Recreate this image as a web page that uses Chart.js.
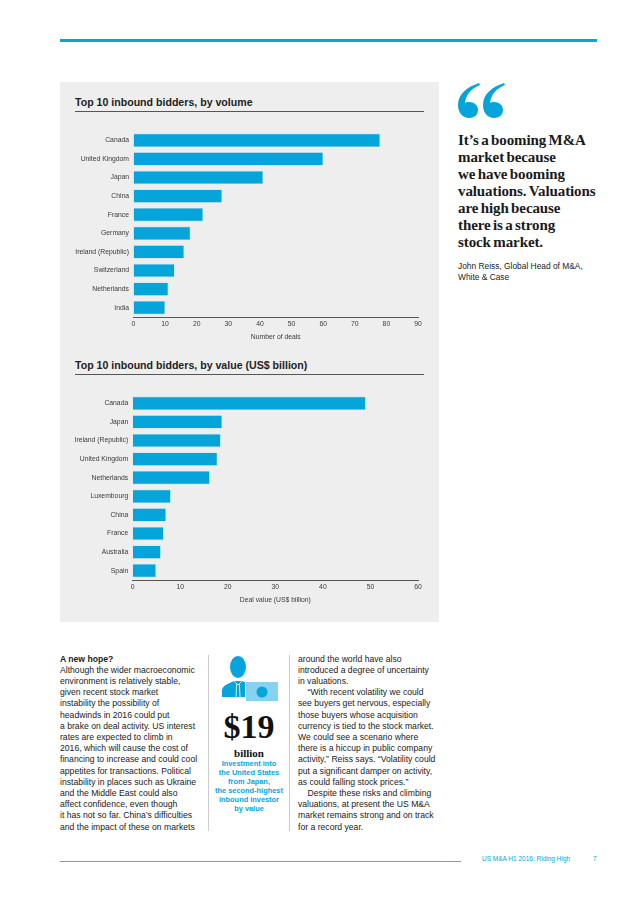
<!DOCTYPE html>
<html>
<head>
<meta charset="utf-8">
<script src="https://cdn.jsdelivr.net/npm/chart.js@4"></script>
<style>
  html, body { margin: 0; padding: 0; background: #fff; }
  #page { position: relative; width: 636px; height: 900px; overflow: hidden; font-family: "Liberation Sans", sans-serif; color: #222; }
  .abs { position: absolute; }
  .rule { position: absolute; background: #555; height: 1px; }
  .head { position: absolute; left: 75px; font-weight: bold; font-size: 10.6px; color: #222; white-space: nowrap; }
  .body { position: absolute; font-size: 8.65px; line-height: 11.2px; white-space: nowrap; color: #222; }
  canvas { position: absolute; }
</style>
</head>
<body>
<div id="page">
  <div class="abs" style="left:60px;top:39px;width:537px;height:3px;background:#05a5dc"></div>
  <div class="abs" style="left:60px;top:82px;width:379px;height:540px;background:#eeeeee"></div>

  <div class="head" style="top:96px">Top 10 inbound bidders, by volume</div>
  <div class="rule" style="left:75px;top:111px;width:349px"></div>
  <canvas id="volumeChart" style="left:60px;top:120px;width:379px;height:225px"></canvas>

  <div class="head" style="top:359px">Top 10 inbound bidders, by value (US$ billion)</div>
  <div class="rule" style="left:75px;top:374px;width:349px"></div>
  <canvas id="valueChart" style="left:60px;top:383px;width:379px;height:225px"></canvas>

  <svg class="abs" style="left:457px;top:82px" width="50" height="37" viewBox="0 0 50 37">
    <path id="q" fill="#05a5dc" d="M22 1 C10 5 1 12 1 23 C1 31 6 36 12 36 C17 36 21 33 21 28 C21 23 17 20 12 20 C10 20 9 20 8 21 C9 12 14 7 23 3 Z"/>
    <use href="#q" x="25"/>
  </svg>
  <div class="abs" style="left:458px;top:131.5px;font:bold 15px/17.1px 'Liberation Serif',serif;color:#1a1a1a;white-space:nowrap;letter-spacing:-0.1px;word-spacing:-1.2px">It’s a booming M&amp;A<br>market because<br>we have booming<br>valuations. Valuations<br>are high because<br>there is a strong<br>stock market.</div>
  <div class="body" style="left:458px;top:261px;font-size:8.4px">John Reiss, Global Head of M&amp;A,<br>White &amp; Case</div>

  <div class="body" style="left:60px;top:653.5px"><b>A new hope?</b><br>Although the wider macroeconomic<br>environment is relatively stable,<br>given recent stock market<br>instability the possibility of<br>headwinds in 2016 could put<br>a brake on deal activity. US interest<br>rates are expected to climb in<br>2016, which will cause the cost of<br>financing to increase and could cool<br>appetites for transactions. Political<br>instability in places such as Ukraine<br>and the Middle East could also<br>affect confidence, even though<br>it has not so far. China’s difficulties<br>and the impact of these on markets</div>

  <div class="abs" style="left:208px;top:655px;width:1px;height:176px;background:#ccc"></div>
  <div class="abs" style="left:289px;top:655px;width:1px;height:176px;background:#ccc"></div>

  <svg class="abs" style="left:220px;top:654px" width="60" height="50" viewBox="0 0 60 50">
    <ellipse cx="18" cy="13" rx="8" ry="11" fill="#05a5dc"/>
    <path fill="#05a5dc" d="M2 43 L2 36 C3 31 8 30 14 27 L22 27 C27 29 32 30 34 35 L34 43 Z"/>
    <path fill="none" stroke="#fff" stroke-width="0.8" d="M14 27 L18 31 L22 27 M16.6 30 L16 43 M19.4 30 L20 43"/>
    <rect x="25.5" y="27.5" width="33" height="20" fill="#86d2f0" stroke="#fff" stroke-width="1"/>
    <circle cx="42" cy="38" r="5.5" fill="#05a5dc"/>
  </svg>
  <div class="abs" style="left:209px;top:705px;width:80px;text-align:center;font:bold 34px/44px 'Liberation Serif',serif;color:#111">$19</div>
  <div class="abs" style="left:209px;top:747px;width:80px;text-align:center;font:bold 11px/13px 'Liberation Serif',serif;color:#111">billion</div>
  <div class="abs" style="left:209px;top:758.5px;width:80px;text-align:center;font:bold 7.4px/9.1px 'Liberation Sans',sans-serif;color:#05a5dc;white-space:nowrap">Investment into<br>the United States<br>from Japan,<br>the second-highest<br>inbound investor<br>by value</div>

  <div class="body" style="left:298px;top:653.5px">around the world have also<br>introduced a degree of uncertainty<br>in valuations.<br>&nbsp;&nbsp;&nbsp;&nbsp;“With recent volatility we could<br>see buyers get nervous, especially<br>those buyers whose acquisition<br>currency is tied to the stock market.<br>We could see a scenario where<br>there is a hiccup in public company<br>activity,” Reiss says. “Volatility could<br>put a significant damper on activity,<br>as could falling stock prices.”<br>&nbsp;&nbsp;&nbsp;&nbsp;Despite these risks and climbing<br>valuations, at present the US M&amp;A<br>market remains strong and on track<br>for a record year.</div>

  <div class="abs" style="left:60px;top:861px;width:401px;height:1px;background:#35b8ea"></div>
  <div class="abs" style="left:482px;top:855px;font-size:6.5px;color:#05a5dc;white-space:nowrap">US M&amp;A H1 2016: Riding High</div>
  <div class="abs" style="left:593px;top:855px;font-size:6.5px;color:#05a5dc">7</div>
</div>

<script>
const volumeCountries = ["Canada", "United Kingdom", "Japan", "China", "France", "Germany", "Ireland (Republic)", "Switzerland", "Netherlands", "India"];
const volumeDeals = [78, 60, 41, 28, 22, 18, 16, 13, 11, 10];

const valueCountries = ["Canada", "Japan", "Ireland (Republic)", "United Kingdom", "Netherlands", "Luxembourg", "China", "France", "Australia", "Spain"];
const valueBillions = [49, 18.8, 18.5, 17.8, 16.2, 8, 7, 6.5, 5.9, 4.9];

const BLUE = "#05a5dc";
const TEXT = "#3a3a3a";
const FONT = { family: "'Liberation Sans', sans-serif", size: 6.8 };

// both panels share one layout, only left edge and axis range differ
function makeBars(id, labels, values, max, axisTitle, leftWidth) {
  return new Chart(document.getElementById(id), {
    type: "bar",
    data: {
      labels,
      datasets: [{
        data: values,
        backgroundColor: BLUE,
        borderColor: "#9ad8f0",
        borderWidth: 0.6,
        categoryPercentage: 1,
        barPercentage: 0.72
      }]
    },
    options: {
      indexAxis: "y",
      responsive: false,
      animation: false,
      layout: { padding: { top: 11, right: 21, bottom: 4, left: 0 } },
      plugins: { legend: { display: false }, tooltip: { enabled: false } },
      scales: {
        y: {
          afterFit: (s) => { s.width = leftWidth; },
          grid: { display: false, drawTicks: false },
          border: { display: false },
          ticks: { font: FONT, color: TEXT, padding: 4.5, autoSkip: false }
        },
        x: {
          min: 0,
          max,
          afterFit: (s) => { s.height = 24; },
          grid: { display: false, drawTicks: false },
          border: { display: true, color: "#555", width: 1 },
          ticks: { font: FONT, color: TEXT, padding: 3.5, stepSize: 10, maxRotation: 0 },
          title: { display: true, text: axisTitle, font: FONT, color: TEXT, padding: { top: 3, bottom: 0 } }
        }
      }
    }
  });
}

function sizeCanvas(id) {
  const c = document.getElementById(id);
  c.width = 379;
  c.height = 225;
}
sizeCanvas("volumeChart");
sizeCanvas("valueChart");

makeBars("volumeChart", volumeCountries, volumeDeals, 90, "Number of deals", 73.5);
makeBars("valueChart", valueCountries, valueBillions, 60, "Deal value (US$ billion)", 72.7);
</script>
</body>
</html>
